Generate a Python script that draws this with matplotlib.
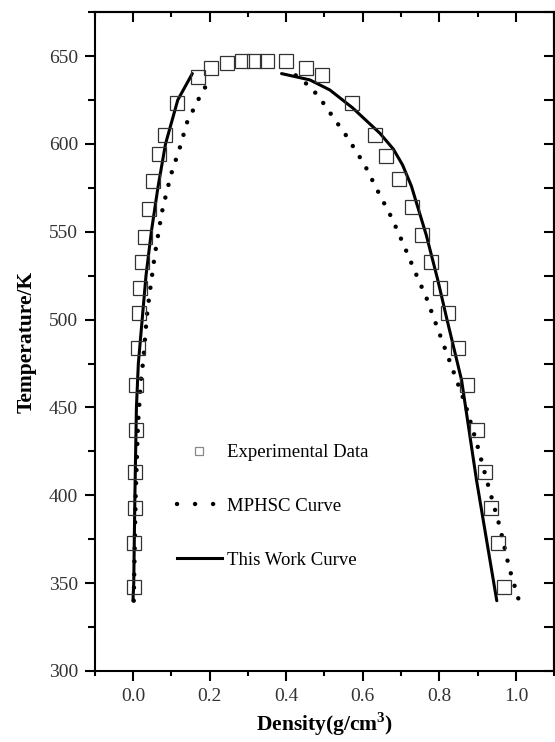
import numpy as np
import matplotlib
matplotlib.use('Agg')
import matplotlib.pyplot as plt
from matplotlib.lines import Line2D
from matplotlib.ticker import MultipleLocator

# experimental data (vapour branch then liquid branch)
exp_density = [0.003, 0.003, 0.004, 0.005, 0.007, 0.009, 0.012, 0.016, 0.018, 0.024,
               0.031, 0.042, 0.052, 0.068, 0.083, 0.114, 0.169, 0.203, 0.246, 0.284,
               0.316, 0.351, 0.400, 0.451, 0.494, 0.571, 0.633, 0.662, 0.694, 0.728,
               0.756, 0.779, 0.803, 0.823, 0.850, 0.871, 0.899, 0.919, 0.936, 0.953, 0.969]
exp_temp = [348, 373, 393, 413, 437, 463, 484, 504, 518, 533,
            547, 563, 579, 594, 605, 623, 638, 643, 646, 647,
            647, 647, 647, 643, 639, 623, 605, 593, 580, 564,
            548, 533, 518, 504, 484, 463, 437, 413, 393, 373, 348]

# MPHSC curve
mphsc_vap_density = [0.002, 0.007, 0.013, 0.021, 0.027, 0.036, 0.043, 0.057, 0.075,
                     0.088, 0.100, 0.122, 0.143, 0.159, 0.174, 0.195]
mphsc_vap_temp = [340, 400, 440, 466, 477, 501.5, 514, 536.8, 560.6,
                  572.6, 583, 597.6, 613.6, 620, 626.7, 634.7]
mphsc_liq_density = [0.425, 0.460, 0.486, 0.520, 0.559, 0.605, 0.642, 0.676, 0.707, 0.737,
                     0.767, 0.792, 0.818, 0.867, 0.899, 0.922, 0.958, 0.982, 1.008]
mphsc_liq_temp = [639, 633, 626.7, 616, 604, 588, 572, 557.8, 542.5, 527,
                  512, 497, 481.6, 452.5, 428.6, 410, 382, 359, 340]

# This work curve
work_vap_density = [0.0, 0.002, 0.005, 0.009, 0.014, 0.024, 0.034, 0.048, 0.065, 0.085, 0.117, 0.155]
work_vap_temp = [340, 350, 400, 450, 475, 500, 525, 550, 575, 600, 625, 640]
work_liq_density = [0.388, 0.462, 0.514, 0.574, 0.645, 0.680, 0.704, 0.727, 0.766, 0.796,
                    0.820, 0.858, 0.897, 0.950]
work_liq_temp = [640, 636.4, 630.7, 620.4, 606, 597, 588, 576, 548, 522.5,
                 500, 465.6, 408.7, 340]

plt.rcParams['font.family'] = ['Liberation Serif', 'DejaVu Serif']
plt.rcParams['font.size'] = 14
plt.rcParams['mathtext.fontset'] = 'custom'
plt.rcParams['mathtext.rm'] = 'Liberation Serif'
plt.rcParams['mathtext.bf'] = 'Liberation Serif:bold'

fig = plt.figure(figsize=(5.55, 7.42), dpi=100)
ax = fig.add_axes([0.1706, 0.0957, 0.828, 0.888])

dot_style = (0, (0.01, 2.93))
for d, t in [(mphsc_vap_density, mphsc_vap_temp), (mphsc_liq_density, mphsc_liq_temp)]:
    ax.plot(d, t, color='black', lw=3.2, linestyle=dot_style, dash_capstyle='round')
for d, t in [(work_vap_density, work_vap_temp), (work_liq_density, work_liq_temp)]:
    ax.plot(d, t, color='black', lw=2.2, solid_capstyle='round')
ax.plot(exp_density, exp_temp, linestyle='none', marker='s', ms=10.5,
        mfc='none', mec='#333333', mew=0.9)

ax.set_xlim(-0.1, 1.1)
ax.set_ylim(300, 675)
ax.set_xticks([0.0, 0.2, 0.4, 0.6, 0.8, 1.0])
ax.xaxis.set_minor_locator(MultipleLocator(0.1))
ax.yaxis.set_major_locator(MultipleLocator(50))
ax.yaxis.set_minor_locator(MultipleLocator(25))
ax.set_xticklabels(['0.0', '0.2', '0.4', '0.6', '0.8', '1.0'])

for s in ax.spines.values():
    s.set_linewidth(1.5)
ax.tick_params(which='major', direction='out', length=7, width=1.5,
               labelcolor='#333333', labelsize=14, pad=5)
ax.tick_params(axis='x', which='minor', direction='out', length=3.5, width=1.5)
ax.tick_params(axis='y', which='minor', direction='out', length=5, width=1.5)

top = ax.secondary_xaxis('top')
top.set_xticks([0.0, 0.2, 0.4, 0.6, 0.8, 1.0])
top.xaxis.set_minor_locator(MultipleLocator(0.1))
top.tick_params(which='major', direction='in', length=7, width=1.5, labeltop=False)
top.tick_params(which='minor', direction='in', length=3.5, width=1.5)
top.spines['top'].set_linewidth(1.5)

right = ax.secondary_yaxis('right')
right.yaxis.set_major_locator(MultipleLocator(50))
right.yaxis.set_minor_locator(MultipleLocator(25))
right.tick_params(which='both', direction='in', length=7, width=1.5, labelright=False)
right.spines['right'].set_linewidth(1.5)

ax.set_xlabel(r'Density(g/cm$^{\mathbf{3}}$)', fontweight='bold', fontsize=15.5, labelpad=4)
ax.set_ylabel('Temperature/K', fontweight='bold', fontsize=15.5, labelpad=9)

handles = [
    Line2D([], [], linestyle='none', marker='s', ms=6, mfc='none', mec='#888888', mew=0.9),
    Line2D([], [], color='black', lw=3.2, linestyle=(0, (0.01, 4.05)), dash_capstyle='round'),
    Line2D([], [], color='black', lw=2.2),
]
labels = ['Experimental Data', 'MPHSC Curve', 'This Work Curve']
ax.legend(handles, labels, loc='center left', bbox_to_anchor=(0.158, 0.25),
          frameon=False, borderpad=0, handlelength=2.4, handletextpad=0.3,
          labelspacing=1.95, fontsize=13.5)

fig.savefig('out.png', dpi=100)
